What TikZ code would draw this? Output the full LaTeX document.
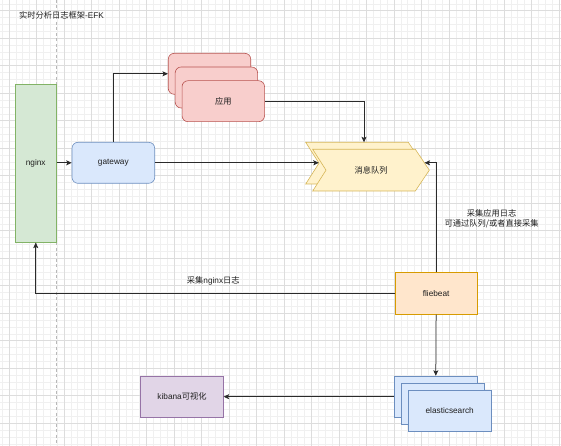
\documentclass[tikz,border=0pt]{standalone}
\usepackage{fontspec}
\setmainfont{Liberation Sans}
\newfontfamily\cjk{Noto Sans CJK SC}
\usetikzlibrary{arrows.meta}
\definecolor{gridminor}{HTML}{F0F0F0}
\definecolor{gridmajor}{HTML}{DDDDDD}
\definecolor{pageline}{HTML}{B8B8B8}
\definecolor{txt}{HTML}{1F1F1F}
\definecolor{linec}{HTML}{2A2A2A}
\definecolor{gfill}{HTML}{D5E8D4}\definecolor{gline}{HTML}{82B366}
\definecolor{bfill}{HTML}{DAE8FC}\definecolor{bline}{HTML}{6C8EBF}
\definecolor{rfill}{HTML}{F8CECC}\definecolor{rline}{HTML}{B85450}
\definecolor{yfill}{HTML}{FFF2CC}\definecolor{yline}{HTML}{D6B656}
\definecolor{ofill}{HTML}{FFE6CC}\definecolor{oline}{HTML}{D79B00}
\definecolor{pfill}{HTML}{E1D5E7}\definecolor{pline}{HTML}{9673A6}
\tikzset{
  lbl/.style={font=\fontsize{8.25}{10}\selectfont, text=txt, align=center, inner sep=0pt},
  box/.style={lbl, draw, line width=0.6pt, minimum width=82.5pt, minimum height=41pt},
  greenbox/.style={box, fill=gfill, draw=gline},
  bluebox/.style={box, fill=bfill, draw=bline},
  redbox/.style={box, fill=rfill, draw=rline, rounded corners=6pt},
  orangebox/.style={box, fill=ofill, draw=oline},
  purplebox/.style={box, fill=pfill, draw=pline},
  chev/.style={fill=yfill, draw=yline, line width=0.6pt},
  conn/.style={draw=linec, line width=0.75pt, -{Stealth[length=5.5pt,width=5pt,inset=1.2pt]}},
}
\begin{document}
\begin{tikzpicture}[x=1pt,y=-1pt]
\useasboundingbox (0,0) rectangle (561,446);
% grid
\begin{scope}
\clip (0,0) rectangle (561,446);
\foreach \i in {0,...,81} \draw[gridminor, line width=0.6pt] ({2.125+6.875*\i},0) -- ({2.125+6.875*\i},446);
\foreach \j in {0,...,64} \draw[gridminor, line width=0.6pt] (0,{3.825+6.875*\j}) -- (561,{3.825+6.875*\j});
\foreach \i in {0,...,20} \draw[gridmajor, line width=0.6pt] ({9+27.5*\i},0) -- ({9+27.5*\i},446);
\foreach \j in {0,...,15} \draw[gridmajor, line width=0.6pt] (0,{10.7+27.5*\j}) -- (561,{10.7+27.5*\j});
\draw[pageline, line width=0.8pt, dash pattern=on 3pt off 2.5pt] (56.5,0) -- (56.5,446);
\end{scope}

% title
\node[lbl, anchor=west] (title) at (19,15.5) {{\cjk 实时分析日志框架}-EFK};

% nodes
\node[greenbox, minimum width=41.5pt, minimum height=158.3pt] (nginx) at (35.75,163.15) {nginx};
\node[bluebox, rounded corners=6pt, minimum width=82.7pt] (gw) at (113.35,162.8) {gateway};

\node[redbox] (app1) at (209.5,73.8) {};
\node[redbox] (app2) at (216.4,87.5) {};
\node[redbox] (app3) at (223.3,101.2) {\cjk 应用};

% message queue (double step shape)
\path[chev] (305.7,142.3) -- (408.3,142.3) -- (422.3,163.15) -- (408.3,184) -- (305.7,184) -- (319,163.15) -- cycle;
\path[chev] (312.7,149.3) -- (415.3,149.3) -- (429.3,170.15) -- (415.3,191) -- (312.7,191) -- (326,170.15) -- cycle;
\node[lbl] (mq) at (371,170.15) {\cjk 消息队列};
\coordinate (mqL) at (318.8,162.8);
\coordinate (mqR) at (424.5,162.8);
\coordinate (mqT) at (364,142.3);

\node[orangebox, minimum width=82.3pt, minimum height=41.6pt] (fb) at (436.15,293.5) {fliebeat};

\node[bluebox, minimum width=83pt, minimum height=41.3pt] (es1) at (435.8,396.7) {};
\node[bluebox, minimum width=83pt, minimum height=41.3pt] (es2) at (442.8,403.6) {};
\node[bluebox, minimum width=83pt, minimum height=41.3pt] (es3) at (449.7,410.5) {elasticsearch};

\node[purplebox, minimum width=82.6pt] (kib) at (182,396.7) {kibana{\cjk 可视化}};

% connectors
\draw[conn] (nginx.east |- gw.west) -- (gw.west);
\draw[conn] (gw.north) |- (app1.west);
\draw[conn] (gw.east) -- (mqL);
\draw[conn] (app3.east) -| (mqT);
\draw[conn] (fb.north) |- (mqR);
\draw[conn] (fb.west) -| (nginx.south);
\draw[conn] (fb.south) -- (es1.north);
\draw[conn] (es1.west) -- (kib.east);

% edge labels
\node[lbl] (l1) at (491.7,219) {{\cjk 采集应用日志}\\{\cjk 可通过队列/或者直接采集}};
\node[lbl] (l2) at (213.3,280.7) {{\cjk 采集}nginx{\cjk 日志}};
\end{tikzpicture}
\end{document}
